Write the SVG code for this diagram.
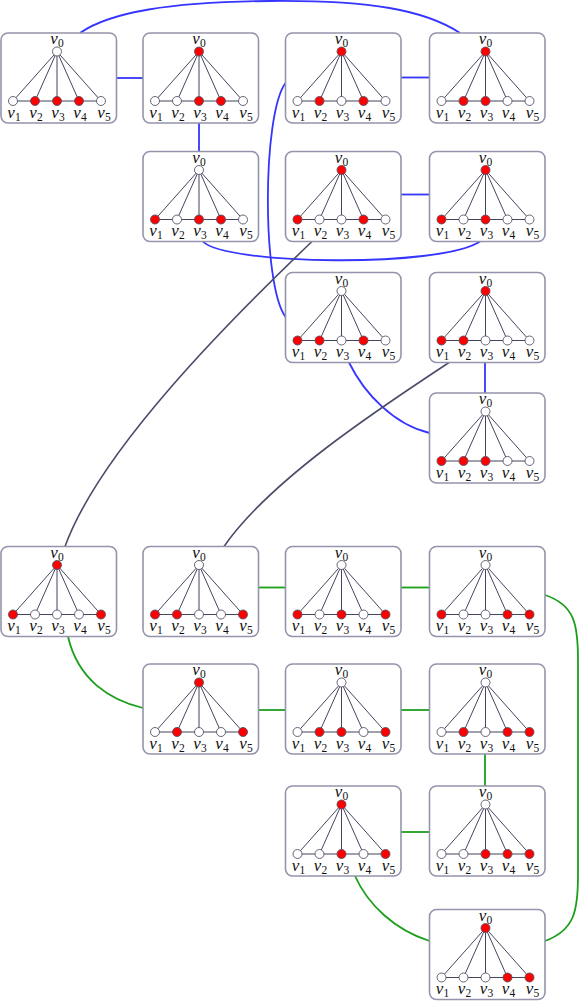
<svg xmlns="http://www.w3.org/2000/svg" width="581" height="1002" viewBox="0 0 581 1002">
<style>
.bg{fill:#fff}
.box{fill:#fff;stroke:#9494ac;stroke-width:1.6}
.e{stroke:#45455f;stroke-width:1}
.w{fill:#fff;stroke:#55556a;stroke-width:0.9}
.r{fill:#ff0000;stroke:#55556a;stroke-width:0.9}
.cb{fill:none;stroke:#3535ff;stroke-width:1.8}
.cg{fill:none;stroke:#1b9f1b;stroke-width:1.8}
.cd{fill:none;stroke:#4b4b6b;stroke-width:1.6}
</style>
<defs>
<g id="base">
<rect class="box" x="0" y="0" width="115.5" height="90" rx="7"/>
<line class="e" x1="12" y1="68" x2="100" y2="68"/>
<line class="e" x1="56" y1="18.5" x2="12" y2="68"/>
<line class="e" x1="56" y1="18.5" x2="34" y2="68"/>
<line class="e" x1="56" y1="18.5" x2="56" y2="68"/>
<line class="e" x1="56" y1="18.5" x2="78" y2="68"/>
<line class="e" x1="56" y1="18.5" x2="100" y2="68"/>
<g font-family="'Liberation Serif', 'DejaVu Serif', serif" font-style="italic" font-size="17" fill="#111" text-anchor="middle">
<text x="56" y="11">v<tspan font-style="normal" font-size="11.5" dy="3">0</tspan></text>
<text x="13" y="84.5">v<tspan font-style="normal" font-size="11.5" dy="3">1</tspan></text>
<text x="35" y="84.5">v<tspan font-style="normal" font-size="11.5" dy="3">2</tspan></text>
<text x="57" y="84.5">v<tspan font-style="normal" font-size="11.5" dy="3">3</tspan></text>
<text x="79" y="84.5">v<tspan font-style="normal" font-size="11.5" dy="3">4</tspan></text>
<text x="103" y="84.5">v<tspan font-style="normal" font-size="11.5" dy="3">5</tspan></text>
</g>
</g>
</defs>
<rect class="bg" x="0" y="0" width="581" height="1002"/>
<g id="connectors">
<path class="cb" d="M80,33 C110,12 170,2 270,1 C370,0 425,10 460,33"/>
<path class="cb" d="M116.5,78 H143"/>
<path class="cb" d="M199,123 V151.5"/>
<path class="cb" d="M401,77.5 H429.5"/>
<path class="cb" d="M285.5,83 C262,115 262,285 285.5,317"/>
<path class="cb" d="M203,241.5 C225,265 440,268 480,241.5"/>
<path class="cb" d="M401,194.5 H429.5"/>
<path class="cb" d="M349,362.5 C365,395 395,425 429.5,433"/>
<path class="cb" d="M485,362.5 V393"/>
<path class="cd" d="M312,241.5 C230,320 100,450 65,546.5"/>
<path class="cd" d="M449,362.5 C380,408 270,480 224,546.5"/>
<path class="cg" d="M258.5,587.5 H285.5"/>
<path class="cg" d="M401,587.5 H429.5"/>
<path class="cg" d="M545,595 C575,605 578,625 578,660 V875 C578,910 575,930 545,941"/>
<path class="cg" d="M68,636.5 C78,680 110,700 143,708"/>
<path class="cg" d="M258.5,710 H285.5"/>
<path class="cg" d="M401,710 H429.5"/>
<path class="cg" d="M485,754 V786"/>
<path class="cg" d="M401,832 H429.5"/>
<path class="cg" d="M355,876 C368,905 395,930 429.5,941"/>
</g>
<g id="n1" transform="translate(1,33)"><use href="#base"/>
<circle class="w" cx="56" cy="18.5" r="4.5"/><circle class="w" cx="12" cy="68" r="4.5"/><circle class="r" cx="34" cy="68" r="4.5"/><circle class="r" cx="56" cy="68" r="4.5"/><circle class="r" cx="78" cy="68" r="4.5"/><circle class="w" cx="100" cy="68" r="4.5"/></g>
<g id="n2" transform="translate(143,33)"><use href="#base"/>
<circle class="r" cx="56" cy="18.5" r="4.5"/><circle class="w" cx="12" cy="68" r="4.5"/><circle class="w" cx="34" cy="68" r="4.5"/><circle class="r" cx="56" cy="68" r="4.5"/><circle class="r" cx="78" cy="68" r="4.5"/><circle class="w" cx="100" cy="68" r="4.5"/></g>
<g id="n3" transform="translate(285.5,33)"><use href="#base"/>
<circle class="r" cx="56" cy="18.5" r="4.5"/><circle class="w" cx="12" cy="68" r="4.5"/><circle class="r" cx="34" cy="68" r="4.5"/><circle class="w" cx="56" cy="68" r="4.5"/><circle class="r" cx="78" cy="68" r="4.5"/><circle class="w" cx="100" cy="68" r="4.5"/></g>
<g id="n4" transform="translate(429.5,33)"><use href="#base"/>
<circle class="r" cx="56" cy="18.5" r="4.5"/><circle class="w" cx="12" cy="68" r="4.5"/><circle class="r" cx="34" cy="68" r="4.5"/><circle class="r" cx="56" cy="68" r="4.5"/><circle class="w" cx="78" cy="68" r="4.5"/><circle class="w" cx="100" cy="68" r="4.5"/></g>
<g id="n5" transform="translate(143,151.5)"><use href="#base"/>
<circle class="w" cx="56" cy="18.5" r="4.5"/><circle class="r" cx="12" cy="68" r="4.5"/><circle class="w" cx="34" cy="68" r="4.5"/><circle class="r" cx="56" cy="68" r="4.5"/><circle class="r" cx="78" cy="68" r="4.5"/><circle class="w" cx="100" cy="68" r="4.5"/></g>
<g id="n6" transform="translate(285.5,151.5)"><use href="#base"/>
<circle class="r" cx="56" cy="18.5" r="4.5"/><circle class="r" cx="12" cy="68" r="4.5"/><circle class="w" cx="34" cy="68" r="4.5"/><circle class="w" cx="56" cy="68" r="4.5"/><circle class="r" cx="78" cy="68" r="4.5"/><circle class="w" cx="100" cy="68" r="4.5"/></g>
<g id="n7" transform="translate(429.5,151.5)"><use href="#base"/>
<circle class="r" cx="56" cy="18.5" r="4.5"/><circle class="r" cx="12" cy="68" r="4.5"/><circle class="w" cx="34" cy="68" r="4.5"/><circle class="r" cx="56" cy="68" r="4.5"/><circle class="w" cx="78" cy="68" r="4.5"/><circle class="w" cx="100" cy="68" r="4.5"/></g>
<g id="n8" transform="translate(285.5,272.5)"><use href="#base"/>
<circle class="w" cx="56" cy="18.5" r="4.5"/><circle class="r" cx="12" cy="68" r="4.5"/><circle class="r" cx="34" cy="68" r="4.5"/><circle class="w" cx="56" cy="68" r="4.5"/><circle class="r" cx="78" cy="68" r="4.5"/><circle class="w" cx="100" cy="68" r="4.5"/></g>
<g id="n9" transform="translate(429.5,272.5)"><use href="#base"/>
<circle class="r" cx="56" cy="18.5" r="4.5"/><circle class="r" cx="12" cy="68" r="4.5"/><circle class="r" cx="34" cy="68" r="4.5"/><circle class="w" cx="56" cy="68" r="4.5"/><circle class="w" cx="78" cy="68" r="4.5"/><circle class="w" cx="100" cy="68" r="4.5"/></g>
<g id="n10" transform="translate(429.5,393)"><use href="#base"/>
<circle class="w" cx="56" cy="18.5" r="4.5"/><circle class="r" cx="12" cy="68" r="4.5"/><circle class="r" cx="34" cy="68" r="4.5"/><circle class="r" cx="56" cy="68" r="4.5"/><circle class="w" cx="78" cy="68" r="4.5"/><circle class="w" cx="100" cy="68" r="4.5"/></g>
<g id="n11" transform="translate(1,546.5)"><use href="#base"/>
<circle class="r" cx="56" cy="18.5" r="4.5"/><circle class="r" cx="12" cy="68" r="4.5"/><circle class="w" cx="34" cy="68" r="4.5"/><circle class="w" cx="56" cy="68" r="4.5"/><circle class="w" cx="78" cy="68" r="4.5"/><circle class="r" cx="100" cy="68" r="4.5"/></g>
<g id="n12" transform="translate(143,546.5)"><use href="#base"/>
<circle class="w" cx="56" cy="18.5" r="4.5"/><circle class="r" cx="12" cy="68" r="4.5"/><circle class="r" cx="34" cy="68" r="4.5"/><circle class="w" cx="56" cy="68" r="4.5"/><circle class="w" cx="78" cy="68" r="4.5"/><circle class="r" cx="100" cy="68" r="4.5"/></g>
<g id="n13" transform="translate(285.5,546.5)"><use href="#base"/>
<circle class="w" cx="56" cy="18.5" r="4.5"/><circle class="r" cx="12" cy="68" r="4.5"/><circle class="w" cx="34" cy="68" r="4.5"/><circle class="r" cx="56" cy="68" r="4.5"/><circle class="w" cx="78" cy="68" r="4.5"/><circle class="r" cx="100" cy="68" r="4.5"/></g>
<g id="n14" transform="translate(429.5,546.5)"><use href="#base"/>
<circle class="w" cx="56" cy="18.5" r="4.5"/><circle class="r" cx="12" cy="68" r="4.5"/><circle class="w" cx="34" cy="68" r="4.5"/><circle class="w" cx="56" cy="68" r="4.5"/><circle class="r" cx="78" cy="68" r="4.5"/><circle class="r" cx="100" cy="68" r="4.5"/></g>
<g id="n15" transform="translate(143,664)"><use href="#base"/>
<circle class="r" cx="56" cy="18.5" r="4.5"/><circle class="w" cx="12" cy="68" r="4.5"/><circle class="r" cx="34" cy="68" r="4.5"/><circle class="w" cx="56" cy="68" r="4.5"/><circle class="w" cx="78" cy="68" r="4.5"/><circle class="r" cx="100" cy="68" r="4.5"/></g>
<g id="n16" transform="translate(285.5,664)"><use href="#base"/>
<circle class="w" cx="56" cy="18.5" r="4.5"/><circle class="w" cx="12" cy="68" r="4.5"/><circle class="r" cx="34" cy="68" r="4.5"/><circle class="r" cx="56" cy="68" r="4.5"/><circle class="w" cx="78" cy="68" r="4.5"/><circle class="r" cx="100" cy="68" r="4.5"/></g>
<g id="n17" transform="translate(429.5,664)"><use href="#base"/>
<circle class="w" cx="56" cy="18.5" r="4.5"/><circle class="w" cx="12" cy="68" r="4.5"/><circle class="r" cx="34" cy="68" r="4.5"/><circle class="w" cx="56" cy="68" r="4.5"/><circle class="r" cx="78" cy="68" r="4.5"/><circle class="r" cx="100" cy="68" r="4.5"/></g>
<g id="n18" transform="translate(285.5,786)"><use href="#base"/>
<circle class="r" cx="56" cy="18.5" r="4.5"/><circle class="w" cx="12" cy="68" r="4.5"/><circle class="w" cx="34" cy="68" r="4.5"/><circle class="r" cx="56" cy="68" r="4.5"/><circle class="w" cx="78" cy="68" r="4.5"/><circle class="r" cx="100" cy="68" r="4.5"/></g>
<g id="n19" transform="translate(429.5,786)"><use href="#base"/>
<circle class="w" cx="56" cy="18.5" r="4.5"/><circle class="w" cx="12" cy="68" r="4.5"/><circle class="w" cx="34" cy="68" r="4.5"/><circle class="r" cx="56" cy="68" r="4.5"/><circle class="r" cx="78" cy="68" r="4.5"/><circle class="r" cx="100" cy="68" r="4.5"/></g>
<g id="n20" transform="translate(429.5,909.5)"><use href="#base"/>
<circle class="r" cx="56" cy="18.5" r="4.5"/><circle class="w" cx="12" cy="68" r="4.5"/><circle class="w" cx="34" cy="68" r="4.5"/><circle class="w" cx="56" cy="68" r="4.5"/><circle class="r" cx="78" cy="68" r="4.5"/><circle class="r" cx="100" cy="68" r="4.5"/></g>
</svg>
